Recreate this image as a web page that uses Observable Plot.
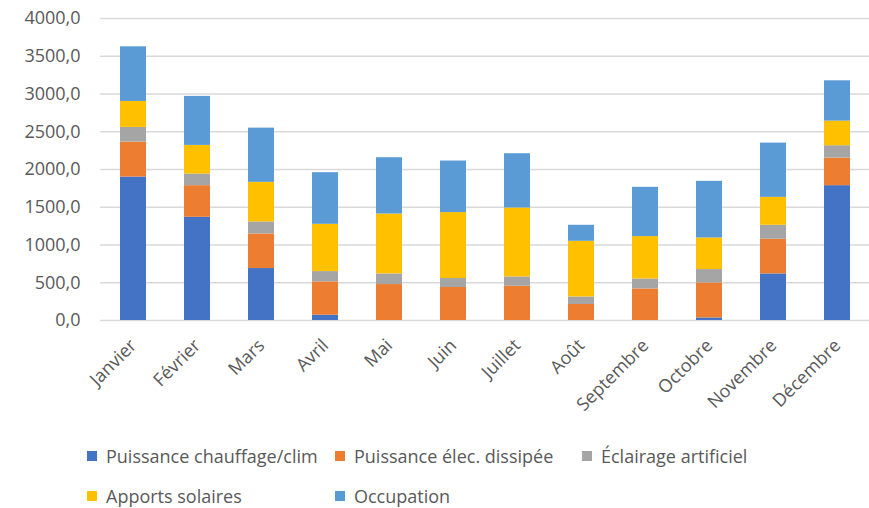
<!DOCTYPE html>
<html>
<head>
<meta charset="utf-8">
<script src="https://cdn.jsdelivr.net/npm/d3@7"></script>
<script src="https://cdn.jsdelivr.net/npm/@observablehq/plot@0.6"></script>
<style>
  body { margin: 0; background: #fff; overflow: hidden; }
  #wrap { position: relative; width: 869px; height: 508px; font-family: "Open Sans", sans-serif; }
  .leg { position: absolute; display: flex; align-items: center; font-size: 18px; line-height: 20px; color: #595959; white-space: nowrap; }
  .sw { width: 10px; height: 10px; margin-right: 9px; }
</style>
</head>
<body>
<div id="wrap"><div id="chart"></div></div>
<script>
const months = ["Janvier","Février","Mars","Avril","Mai","Juin","Juillet","Août","Septembre","Octobre","Novembre","Décembre"];
const seriesNames = ["Puissance chauffage/clim","Puissance élec. dissipée","Éclairage artificiel","Apports solaires","Occupation"];
const colors = ["#4472C4","#ED7D31","#A5A5A5","#FFC000","#5B9BD5"];
const chauffage = [1900,1367,688,70,0,0,0,0,0,34,617,1786];
const elec      = [463,419,458,441,476,437,454,212,418,463,459,365];
const eclairage = [194,154,159,137,141,119,123,100,132,178,185,164];
const solaires  = [344,379,525,626,793,873,913,737,561,418,370,326];
const occupation= [724,649,718,684,746,683,719,212,653,750,719,534];
const yTicks = [0,500,1000,1500,2000,2500,3000,3500,4000];

const seriesValues = [chauffage, elec, eclairage, solaires, occupation];
const data = [];
months.forEach((m, i) => {
  seriesNames.forEach((s, k) => data.push({month: m, series: s, value: seriesValues[k][i]}));
});

const chart = Plot.plot({
  width: 869,
  height: 430,
  marginLeft: 100,
  marginRight: 0,
  marginTop: 18,
  marginBottom: 110,
  style: {fontFamily: "Open Sans, sans-serif", fontSize: "18px", color: "#595959", background: "#fff"},
  x: {domain: months, paddingInner: 0.6, paddingOuter: 0.3, label: null},
  y: {domain: [0, 4000], label: null},
  color: {domain: seriesNames, range: colors},
  marks: [
    Plot.gridY(yTicks, {stroke: "#D9D9D9", strokeOpacity: 1, strokeWidth: 1.3}),
    Plot.axisY(yTicks, {tickSize: 0, tickPadding: 20, tickFormat: d => d.toFixed(1).replace(".", ","), fill: "#595959"}),
    Plot.axisX({tickSize: 0, tickPadding: 22, tickRotate: -45, fill: "#595959"}),
    Plot.barY(data, {x: "month", y: "value", fill: "series"})
  ]
});
document.getElementById("chart").appendChild(chart);

const wrap = document.getElementById("wrap");
const legPos = [[87, 456],[335, 456],[582, 456],[87, 496],[335, 496]];
seriesNames.forEach((s, k) => {
  const d = document.createElement("div");
  d.className = "leg";
  d.style.left = legPos[k][0] + "px";
  d.style.top = (legPos[k][1] - 10) + "px";
  d.style.height = "20px";
  const sw = document.createElement("div");
  sw.className = "sw";
  sw.style.background = colors[k];
  const t = document.createElement("span");
  t.textContent = s;
  d.appendChild(sw); d.appendChild(t);
  wrap.appendChild(d);
});
</script>
</body>
</html>
